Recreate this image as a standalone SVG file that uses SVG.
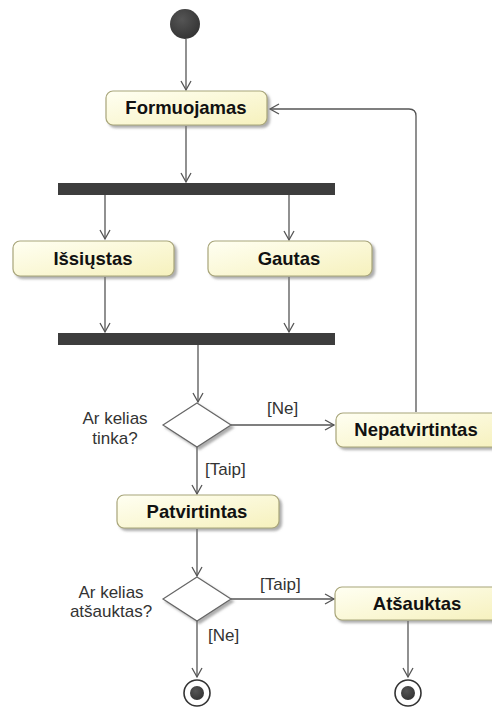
<svg xmlns="http://www.w3.org/2000/svg" width="492" height="708" viewBox="0 0 492 708">
  <style>
    .action { fill: url(#actionFill); stroke: #a8a57a; stroke-width: 1.2; filter: url(#shadow); }
    .name { font-family: "Liberation Sans", Arial, sans-serif; font-weight: bold; font-size: 18.5px; fill: #111; text-anchor: middle; }
    .label { font-family: "Liberation Sans", Arial, sans-serif; font-size: 17px; fill: #333; }
    .bar { fill: #3d3d3d; }
    .flow { fill: none; stroke: #555; stroke-width: 1.3; marker-end: url(#open); }
    .decision { fill: #fff; stroke: #666; stroke-width: 1.2; filter: url(#shadow); }
  </style>
  <defs>
    <linearGradient id="actionFill" x1="0" y1="0" x2="1" y2="1">
      <stop offset="0" stop-color="#fffff2"/>
      <stop offset="1" stop-color="#f6f1bd"/>
    </linearGradient>
    <radialGradient id="dark" cx="0.4" cy="0.35" r="0.7">
      <stop offset="0" stop-color="#555"/>
      <stop offset="1" stop-color="#333"/>
    </radialGradient>
    <filter id="shadow" x="-10%" y="-20%" width="130%" height="160%">
      <feDropShadow dx="2.5" dy="2.5" stdDeviation="1.3" flood-color="#777" flood-opacity="0.6"/>
    </filter>
    <marker id="open" markerUnits="userSpaceOnUse" markerWidth="14" markerHeight="14" refX="10" refY="6" orient="auto">
      <path d="M1,1 L10,6 L1,11" fill="none" stroke="#555" stroke-width="1.3"/>
    </marker>
  </defs>

  <!-- control flows -->
  <g id="connectors">
    <path class="flow" d="M186,39 V90"/>
    <path class="flow" d="M186,126 V182"/>
    <path class="flow" d="M105,195 V239"/>
    <path class="flow" d="M289,195 V240"/>
    <path class="flow" d="M105,277 V332"/>
    <path class="flow" d="M289,277 V332"/>
    <path class="flow" d="M198,345 V402"/>
    <path class="flow" d="M231,425 H334"/>
    <path class="flow" d="M416,412 V116 Q416,109 409,109 H270"/>
    <path class="flow" d="M197,447 V494"/>
    <path class="flow" d="M197,529 V576"/>
    <path class="flow" d="M231,599 H334"/>
    <path class="flow" d="M197,621 V677"/>
    <path class="flow" d="M408,621 V677"/>
    <text class="label" x="267" y="414">[Ne]</text>
    <text class="label" x="205" y="475">[Taip]</text>
    <text class="label" x="260" y="590">[Taip]</text>
    <text class="label" x="208" y="641">[Ne]</text>
  </g>

  <g id="initial">
    <circle cx="185" cy="24" r="15" fill="url(#dark)"/>
  </g>

  <g id="formuojamas">
    <rect class="action" x="106" y="91" width="161" height="34" rx="7"/>
    <text class="name" x="186" y="114">Formuojamas</text>
  </g>

  <g id="fork">
    <rect class="bar" x="58" y="183" width="277" height="12"/>
  </g>

  <g id="issiustas">
    <rect class="action" x="13" y="241" width="161" height="35" rx="7"/>
    <text class="name" x="93" y="265">Išsiųstas</text>
  </g>

  <g id="gautas">
    <rect class="action" x="208" y="241" width="164" height="35" rx="7"/>
    <text class="name" x="289" y="265">Gautas</text>
  </g>

  <g id="join">
    <rect class="bar" x="58" y="333" width="277" height="12"/>
  </g>

  <g id="decision-tinka">
    <polygon class="decision" points="197,403 231,425 197,447 163,425"/>
    <text class="label" x="115" y="424" text-anchor="middle">Ar kelias</text>
    <text class="label" x="115" y="444" text-anchor="middle">tinka?</text>
  </g>

  <g id="nepatvirtintas">
    <rect class="action" x="336" y="413" width="170" height="34" rx="7"/>
    <text class="name" x="416" y="436">Nepatvirtintas</text>
  </g>

  <g id="patvirtintas">
    <rect class="action" x="117" y="495" width="162" height="33" rx="7"/>
    <text class="name" x="197" y="518">Patvirtintas</text>
  </g>

  <g id="decision-atsauktas">
    <polygon class="decision" points="197,577 231,599 197,621 163,599"/>
    <text class="label" x="111" y="598" text-anchor="middle">Ar kelias</text>
    <text class="label" x="111" y="617" text-anchor="middle">atšauktas?</text>
  </g>

  <g id="atsauktas">
    <rect class="action" x="335" y="587" width="170" height="33" rx="7"/>
    <text class="name" x="417" y="610">Atšauktas</text>
  </g>

  <g id="final-1">
    <circle cx="197" cy="693" r="13" fill="#fff" stroke="#333" stroke-width="1.6"/>
    <circle cx="197" cy="693" r="7" fill="url(#dark)"/>
  </g>

  <g id="final-2">
    <circle cx="408" cy="693" r="13" fill="#fff" stroke="#333" stroke-width="1.6"/>
    <circle cx="408" cy="693" r="7" fill="url(#dark)"/>
  </g>
</svg>
